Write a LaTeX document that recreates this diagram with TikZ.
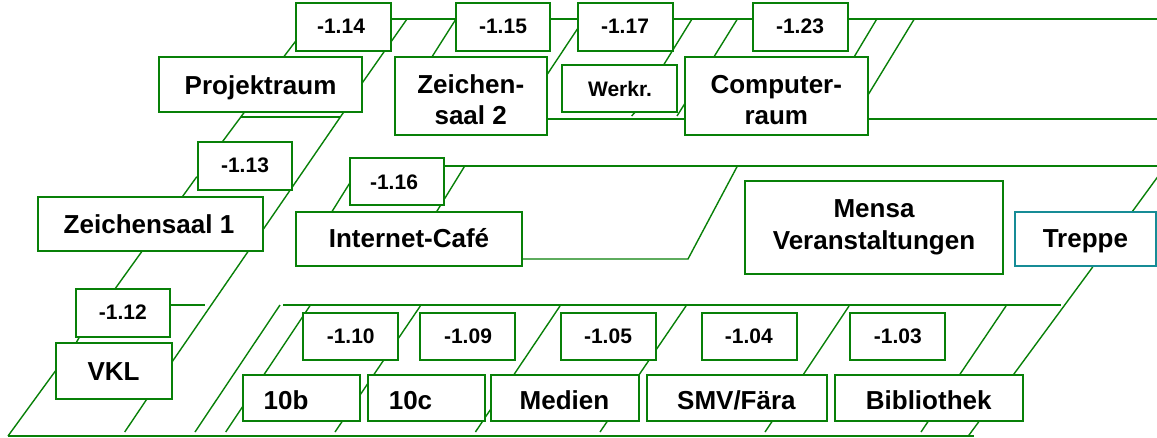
\documentclass[tikz,border=0pt]{standalone}
\usepackage{fontspec}
\setmainfont{Liberation Sans}
\definecolor{wall}{RGB}{8,128,8}
\definecolor{stair}{RGB}{22,140,150}
\tikzset{
  wallline/.style={draw=wall,line width=1.4pt},
  roombox/.style={draw=wall,fill=white,line width=2pt,inner sep=0pt,outer sep=0pt},
  bigtext/.style={inner sep=0pt,font=\bfseries\fontsize{26}{31}\selectfont,text=black,align=center},
  smalltext/.style={inner sep=0pt,font=\bfseries\fontsize{21}{25}\selectfont,text=black,align=center}
}
% name, x1,y1,x2,y2, box style extras
\newcommand{\roomrect}[6][]{\node[roombox,#1,minimum width={#4-#2},minimum height={#5-#3}] (#6) at ({(#2+#4)/2},{(#3+#5)/2}) {};}
\begin{document}
\begin{tikzpicture}[x=1pt,y=-1pt]
\useasboundingbox (0,0) rectangle (1157,437);
% long horizontals
\draw[wallline] (391,19) -- (1157,19);
\draw[wallline] (547,119) -- (1157,119);
\draw[wallline] (444,166) -- (1157,166);
\draw[wallline] (522,259) -- (688,259) -- (737.4,166);
\draw[wallline] (240.5,117) -- (340.4,117);
\draw[wallline] (170.5,305) -- (204.6,305);
\draw[wallline] (283,305) -- (1061,305);
\draw[wallline] (8,435.8) -- (974,435.8);
% upper diagonals
\draw[wallline] (296,40.7) -- (283.4,57.3);
\draw[wallline] (407,19) -- (362,83.3);
\draw[wallline] (456,19) -- (431.7,57.3);
\draw[wallline] (578,28) -- (547.5,74);
\draw[wallline] (692,19) -- (663.6,65);
\draw[wallline] (737.4,19) -- (713.7,57.3);
\draw[wallline] (876.8,19) -- (853.9,57.3);
\draw[wallline] (914.3,19) -- (868,95);
\draw[wallline] (635.5,111.7) -- (631.6,116);
\draw[wallline] (685,103.3) -- (677,116);
% left diagonals
\draw[wallline] (244,112.7) -- (222,142.3);
\draw[wallline] (343.3,112.7) -- (263,229.7);
\draw[wallline] (196.8,176.7) -- (182.4,196.7);
\draw[wallline] (142.4,250.7) -- (114.7,289.3);
\draw[wallline] (248.6,250.7) -- (172,362);
\draw[wallline] (79.5,337) -- (75.8,343.3);
\draw[wallline] (55.9,370.3) -- (8,436);
\draw[wallline] (146.9,399) -- (124.7,432);
% middle
\draw[wallline] (464.3,166.7) -- (436.6,211.7);
\draw[wallline] (349.6,183.3) -- (331.9,211.7);
\draw[wallline] (1159,175) -- (1132,212);
% lower diagonals
\draw[wallline] (280,305) -- (195,432);
\draw[wallline] (310,305.7) -- (225.7,432);
\draw[wallline] (420.3,306) -- (335,432);
\draw[wallline] (560,306) -- (475.4,432);
\draw[wallline] (686,306) -- (600,432);
\draw[wallline] (849,306) -- (765,432);
\draw[wallline] (1006,306) -- (921,432);
\draw[wallline] (1092.7,267) -- (968.3,436);
% boxes
\roomrect{296}{3}{391}{51}{r114}
\roomrect{159}{57}{362}{112}{rproj}
\roomrect{456}{3}{550}{51}{r115}
\roomrect{395}{57}{547}{135}{rz2}
\roomrect{198}{142}{292}{190}{r113}
\roomrect{350}{158}{444}{205}{r116}
\roomrect{38}{197}{263}{251}{rz1}
\roomrect{296}{212}{522}{266}{rcafe}
\roomrect{578}{3}{673}{51}{r117}
\roomrect{562}{65}{677}{112}{rwerk}
\roomrect{753}{3}{848}{51}{r123}
\roomrect{685}{57}{868}{135}{rcomp}
\roomrect{745}{181}{1003}{274}{rmensa}
\roomrect[draw=stair]{1015}{212}{1156}{266}{rtreppe}
\roomrect{76}{289}{170}{337}{r112}
\roomrect{56}{343}{172}{399}{rvkl}
\roomrect{303}{313}{398}{360}{r110}
\roomrect{420}{313}{515}{360}{r109}
\roomrect{561}{313}{656}{360}{r105}
\roomrect{702}{313}{797}{360}{r104}
\roomrect{850}{313}{945}{360}{r103}
\roomrect{243}{375}{360}{421}{r10b}
\roomrect{368}{375}{485}{421}{r10c}
\roomrect{491}{375}{639}{421}{rmedien}
\roomrect{647}{375}{827}{421}{rsmv}
\roomrect{835}{375}{1023}{421}{rbib}
% labels
\node[smalltext,anchor=base] (t114) at (341,33) {-1.14};
\node[smalltext,anchor=base] (t115) at (503,33) {-1.15};
\node[smalltext,anchor=base] (t117) at (625,33) {-1.17};
\node[smalltext,anchor=base] (t123) at (800,33) {-1.23};
\node[smalltext,anchor=base] (t113) at (245,172.7) {-1.13};
\node[smalltext,anchor=base] (t116) at (394,189) {-1.16};
\node[smalltext,anchor=base] (t112) at (122.8,319.7) {-1.12};
\node[smalltext,anchor=base] (t110) at (350.7,343) {-1.10};
\node[smalltext,anchor=base] (t109) at (468,343) {-1.09};
\node[smalltext,anchor=base] (t105) at (608,343) {-1.05};
\node[smalltext,anchor=base] (t104) at (748.8,343) {-1.04};
\node[smalltext,anchor=base] (t103) at (897.9,343) {-1.03};
\node[smalltext,anchor=base] (twerk) at (620,96) {Werkr.};
\node[bigtext,anchor=base] (tproj) at (260.6,94) {Projektraum};
\node[bigtext] (tz2) at (470.7,100) {Zeichen-\\saal 2};
\node[bigtext] (tcomp) at (776.3,100) {Computer-\\raum};
\node[bigtext] (tmensa) at (874,227) {Mensa\\[1pt]Veranstaltungen};
\node[bigtext,anchor=base] (tz1) at (149,233.7) {Zeichensaal 1};
\node[bigtext,anchor=base] (tcafe) at (409,247.7) {Internet-Café};
\node[bigtext,anchor=base] (ttreppe) at (1085.4,247) {Treppe};
\node[bigtext,anchor=base] (tvkl) at (113.6,380) {VKL};
\node[bigtext,anchor=base] (t10b) at (286,409.7) {10b};
\node[bigtext,anchor=base] (t10c) at (410.5,409.7) {10c};
\node[bigtext,anchor=base] (tmedien) at (564.5,409.7) {Medien};
\node[bigtext,anchor=base] (tsmv) at (736.4,409.7) {SMV/Fära};
\node[bigtext,anchor=base] (tbib) at (928.7,409.7) {Bibliothek};
\end{tikzpicture}
\end{document}
